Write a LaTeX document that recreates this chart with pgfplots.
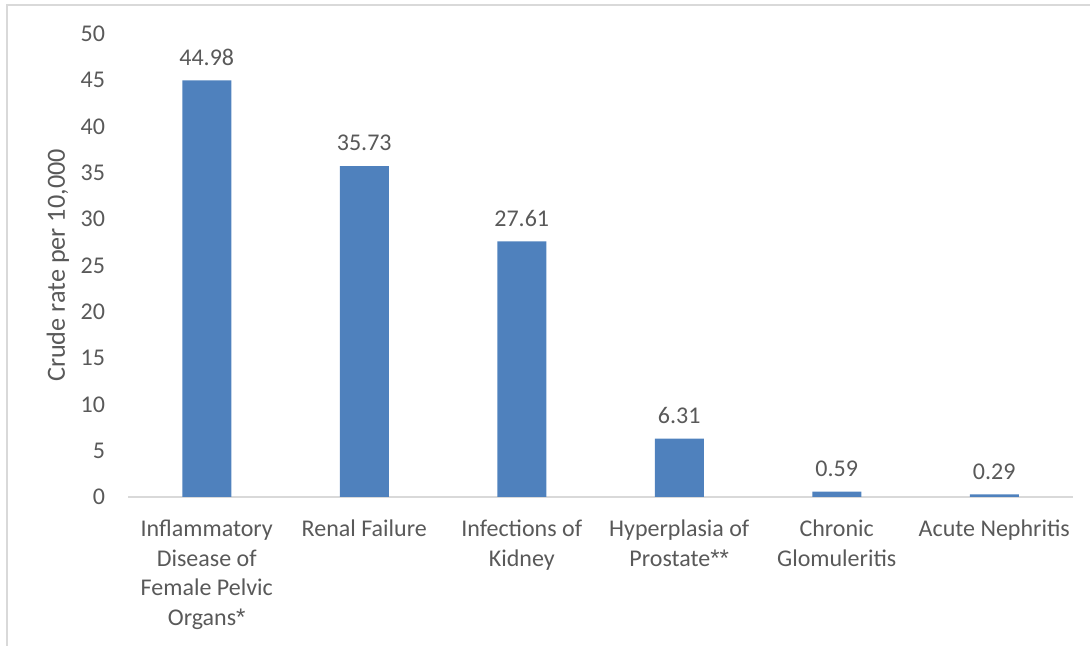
\documentclass[border=0pt]{standalone}
\usepackage{pgfplots}
\pgfplotsset{compat=1.18}
\usepackage{fontspec}
\setmainfont{Carlito}
\newfontfamily\astfont{Liberation Sans}
\definecolor{barblue}{HTML}{4F81BD}
\definecolor{txt}{HTML}{595959}
\definecolor{framec}{HTML}{D9D9D9}
\newcommand{\st}{{\astfont *}}
\begin{document}
\begin{tikzpicture}[x=1pt,y=1pt]
\useasboundingbox (0,0) rectangle (545,323);
\draw[framec, line width=1pt] (3.5,0) -- (3.5,320.5) -- (545,320.5);
\begin{axis}[
  at={(64pt,74.5pt)}, anchor=south west,
  scale only axis, width=472.5pt, height=231.5pt,
  xmin=-0.5, xmax=5.5, ymin=0, ymax=50,
  axis x line*=bottom, axis y line*=left,
  y axis line style={draw=none},
  x axis line style={framec, line width=1pt},
  major tick length=0pt,
  xtick={0,1,2,3,4,5},
  xticklabels={{Inflammatory\\Disease of\\Female Pelvic\\Organs\st},{Renal Failure},{Infections of\\Kidney},{Hyperplasia of\\Prostate\st\st},{Chronic\\Glomuleritis},{Acute Nephritis}},
  ytick={0,5,...,50},
  tick label style={font=\fontsize{12}{14.75}\selectfont, text=txt},
  /pgf/number format/assume math mode=true,
  xticklabel style={align=center, anchor=north, yshift=-8pt},
  yticklabel style={anchor=east, xshift=-8pt},
  ylabel={Crude rate per 10,000},
  every axis y label/.style={at={(axis description cs:-0.0741,0.5)}, rotate=90, anchor=center, font=\fontsize{13.1}{16}\selectfont, text=txt},
  ybar, bar width=24.5pt,
  point meta=explicit symbolic,
  nodes near coords={\pgfplotspointmeta},
  every node near coord/.append style={font=\fontsize{12}{14.75}\selectfont, text=txt, yshift=4pt},
  clip=false,
]
\addplot[fill=barblue, draw=none] coordinates {
  (0,44.98) [44.98]
  (1,35.73) [35.73]
  (2,27.61) [27.61]
  (3,6.31) [6.31]
  (4,0.59) [0.59]
  (5,0.29) [0.29]
};
\end{axis}
\end{tikzpicture}
\end{document}
